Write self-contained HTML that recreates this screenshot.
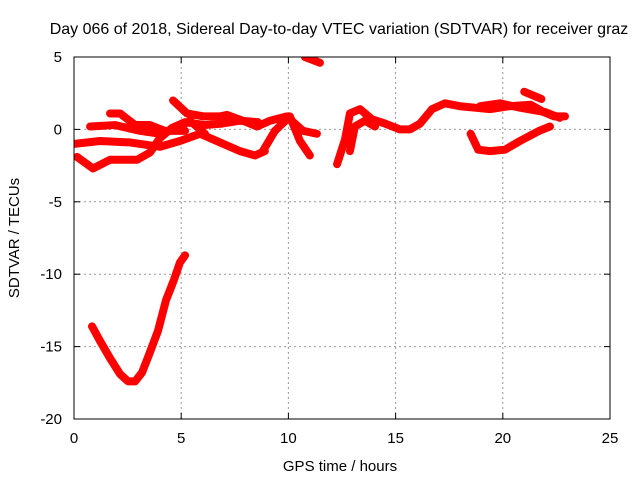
<!DOCTYPE html>
<html><head><meta charset="utf-8"><style>
body{margin:0;background:#fff}
svg text{font-family:"Liberation Sans",sans-serif;font-size:15px;fill:#000}
</style></head><body>
<svg id="c" width="640" height="480">
<text x="339" y="34" text-anchor="middle" style="font-size:16px">Day 066 of 2018, Sidereal Day-to-day VTEC variation (SDTVAR) for receiver graz</text>
<text x="340" y="471" text-anchor="middle">GPS time / hours</text>
<text transform="translate(19,238) rotate(-90)" text-anchor="middle">SDTVAR / TECUs</text>
<g id="grid"></g><g id="ticks"></g><g id="series" clip-path="url(#clip)"></g>
<defs><clipPath id="clip"><rect x="74" y="57" width="536" height="362"/></clipPath></defs>
<rect x="74" y="57" width="536" height="362" fill="none" stroke="#000"/>
</svg>
<script>
const xTicks=[0,5,10,15,20,25];
const yTicks=[5,0,-5,-10,-15,-20];
const trackA_x=[0.84,1.21,1.68,2.15,2.52,2.85,3.17,3.54,3.92,4.29,4.66,4.94,5.18];
const trackA_y=[-13.6,-14.6,-15.8,-16.9,-17.4,-17.4,-16.8,-15.4,-13.9,-11.8,-10.4,-9.2,-8.7];
const trackB_x=[0.14,0.89,1.68,2.94,3.54,4.01,4.57,5.18,6.11,6.9,7.74,8.58];
const trackB_y=[-1.9,-2.7,-2.1,-2.1,-1.6,-0.6,0.1,0.5,0.3,0.4,0.6,0.5];
const trackC_x=[0,1.21,2.61,4.01,4.94,5.88,6.81,7.74,8.44,8.9];
const trackC_y=[-1.0,-0.8,-0.9,-1.2,-0.8,-0.3,-0.9,-1.5,-1.8,-1.5];
const trackD_x=[0.75,1.91,3.08,4.01,4.71,5.41,6.11];
const trackD_y=[0.2,0.3,-0.1,-0.3,0,0.6,-0.3];
const trackE_x=[1.68,2.15,2.85,3.54,4.24,5.18];
const trackE_y=[1.1,1.1,0.3,0.3,-0.1,-0.1];
const trackF_x=[4.62,5.27,6.02,6.81,7.13,7.88,8.54,9.14,9.93,10.68,11.33];
const trackF_y=[2.0,1.1,0.9,0.9,1.0,0.6,0.2,0.6,0.9,-0.1,-0.3];
const trackG_x=[8.81,9.37,10.07,10.54,11.0];
const trackG_y=[-1.5,-0.1,0.9,-0.8,-1.8];
const trackH_x=[12.27,12.64,12.87,13.34,13.9,14.51,15.2,15.67,16.14,16.7,17.3,18.0,18.7,19.4,20.3,21.3,21.9,22.4,22.9];
const trackH_y=[-2.4,-0.7,1.1,1.4,0.7,0.4,0,0,0.4,1.4,1.8,1.6,1.5,1.4,1.6,1.7,1.2,0.9,0.9];
const trackI_x=[18.5,18.85,19.4,20.1,20.8,21.7,22.2];
const trackI_y=[-0.3,-1.4,-1.5,-1.4,-0.8,-0.1,0.2];
const trackJ_x=[18.94,19.87,20.8,21.96,22.66];
const trackJ_y=[1.6,1.8,1.5,1.2,0.8];
const trackK_x=[21.0,21.8];
const trackK_y=[2.6,2.1];
const trackL_x=[10.77,11.47];
const trackL_y=[5.0,4.6];
const trackM_x=[12.87,13.1,13.57,14.04];
const trackM_y=[-1.5,0.2,0.6,0.2];
const tracks=[[trackA_x,trackA_y],[trackB_x,trackB_y],[trackC_x,trackC_y],[trackD_x,trackD_y],[trackE_x,trackE_y],[trackF_x,trackF_y],[trackG_x,trackG_y],[trackH_x,trackH_y],[trackI_x,trackI_y],[trackJ_x,trackJ_y],[trackK_x,trackK_y],[trackL_x,trackL_y],[trackM_x,trackM_y]];
const X=v=>74+v*536/25, Y=v=>57+(5-v)*362/25;
const NS='http://www.w3.org/2000/svg';
const grid=document.getElementById('grid'),ticks=document.getElementById('ticks'),ser=document.getElementById('series');
function mk(tag,a,p){const e=document.createElementNS(NS,tag);for(const k in a)e.setAttribute(k,a[k]);p.appendChild(e);return e;}
xTicks.forEach(t=>{const x=X(t);
 if(t>0&&t<25){const g=mk('line',{x1:x,x2:x,y1:57,y2:419,stroke:'#999','stroke-dasharray':'2,3'},grid);
 
 }
 mk('line',{x1:x,x2:x,y1:419,y2:413,stroke:'#000'},ticks);mk('line',{x1:x,x2:x,y1:57,y2:63,stroke:'#000'},ticks);
 const l=mk('text',{x:x,y:443,'text-anchor':'middle'},ticks);l.textContent=t;
 
 });
yTicks.forEach(t=>{const y=Y(t);
 if(t<5&&t>-20){const g=mk('line',{x1:74,x2:610,y1:y,y2:y,stroke:'#999','stroke-dasharray':'2,3'},grid);
 
 }
 mk('line',{x1:74,x2:80,y1:y,y2:y,stroke:'#000'},ticks);mk('line',{x1:610,x2:604,y1:y,y2:y,stroke:'#000'},ticks);
 const l=mk('text',{x:62,y:y+5,'text-anchor':'end'},ticks);l.textContent=t;
 
 });
tracks.forEach(([xs,ys])=>{
 const p=mk('polyline',{points:xs.map((v,i)=>X(v)+','+Y(ys[i])).join(' '),fill:'none',stroke:'#f00','stroke-width':8,'stroke-linejoin':'round','stroke-linecap':'round'},ser);
 
 });
</script>
</body></html>
